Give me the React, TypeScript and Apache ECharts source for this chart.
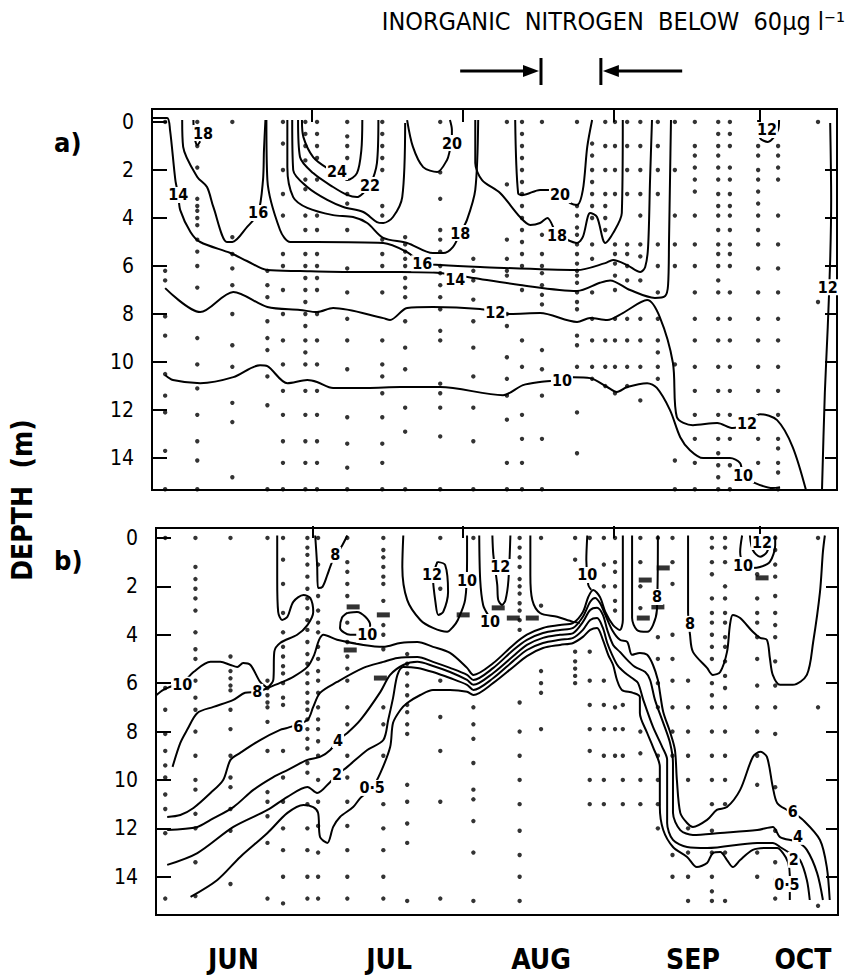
import React, { useEffect, useRef } from "react";
import * as echarts from "echarts";

const FONT = "'DejaVu Sans Condensed', 'Liberation Sans Narrow', 'DejaVu Sans', sans-serif";

// x = day of year (1 Jun = 152), y = depth in metres
const monthBoundaries = [182, 213, 244, 274];
const monthLabelDays = [165.8, 197.8, 229.0, 260.2, 282.8];
const monthNames = ["JUN", "JUL", "AUG", "SEP", "OCT"];
const depthTicks = [0, 2, 4, 6, 8, 10, 12, 14];
const depthTicksRight = [2, 4, 6, 8, 10, 12, 14];
// day where the right arrow starts, left bar, right bar, day where the left arrow ends
const nitrogenArrow = [212.4, 229.0, 241.3, 258.0];

// ---------- panel a) isolines ----------
const a14 = [[149.1,-0.17],[152.2,-0.17],[152.8,0.33],[153.9,2.42],[154.5,3.04],[154.9,3.67],[157.0,4.58],[159.0,5.0],[165.2,5.46],[168.6,5.79],[172.8,6.17],[179.5,6.21],[189.8,6.25],[200.1,6.25],[208.3,6.29],[215.1,6.5],[224.7,6.79],[236.4,7.04],[241.1,6.7],[243.2,6.6],[247.3,7.0],[252.4,7.33],[254.5,7.25],[255.1,6.8],[255.3,4.9],[255.5,2.4],[255.7,-0.08]];
const a16U = [[155.3,-0.08],[155.5,1.04],[158.4,2.29],[160.4,2.71],[161.7,3.54],[164.5,5.0],[165.6,5.0],[168.6,4.38],[170.9,3.79],[171.9,2.42],[172.1,1.17],[172.4,-0.08]];
const a16L = [[172.6,-0.08],[172.8,2.42],[175.4,4.5],[177.5,5.0],[183.0,5.0],[196.6,5.04],[201.5,5.42],[204.6,5.88],[208.3,5.96],[216.5,6.04],[236.4,6.17],[242.2,5.88],[243.8,5.75],[246.7,5.96],[249.4,6.25],[250.4,6.04],[251.0,5.2],[251.4,2.42],[251.8,-0.08]];
const a18a = [[176.9,-0.08],[176.9,1.88],[178.1,3.13],[181.0,3.58],[186.3,3.88],[190.4,3.96],[193.3,4.21],[196.6,4.83],[201.5,5.04],[206.8,5.46],[208.9,5.46],[210.9,5.21],[212.4,4.63],[213.8,4.08],[215.5,2.83],[216.1,-0.08]];
const a20a = [[177.9,-0.08],[178.1,2.0],[181.0,2.71],[185.1,3.25],[188.4,3.54],[192.5,3.75],[195.3,4.17],[196.6,4.21],[198.6,3.96],[200.5,3.13],[201.1,0.04]];
const a22 = [[179.1,-0.08],[179.5,1.46],[182.2,2.13],[186.3,2.71],[189.2,3.04],[191.2,3.13],[192.5,2.96],[193.9,2.63],[195.3,1.71],[195.6,-0.08]];
const a24 = [[179.9,-0.08],[180.2,0.63],[182.2,1.46],[185.1,1.92],[187.1,2.08],[189.2,2.42],[191.2,2.13],[192.1,1.17],[192.3,-0.08]];
const a20b = [[201.5,-0.08],[202.7,1.04],[204.8,1.88],[207.7,2.08],[209.7,1.58],[210.3,1.17],[210.7,0.88],[210.7,0.33],[210.3,-0.08]];
const a18b = [[215.5,-0.08],[215.5,1.71],[216.9,2.42],[220.6,2.96],[224.7,3.96],[226.8,4.29],[228.8,4.21],[230.3,4.0],[232.3,4.71],[233.5,4.83],[236.4,5.04],[237.6,4.79],[239.1,3.79],[240.5,3.96],[242.2,5.04],[243.8,4.63],[245.6,3.79],[245.8,-0.08]];
const a20c = [[223.7,-0.08],[224.3,2.96],[225.3,3.04],[228.8,2.83],[230.9,2.83],[232.9,3.04],[235.0,3.38],[236.4,3.46],[237.6,2.83],[238.5,1.04],[239.5,-0.08]];
const a12 = [[151.8,6.92],[159.0,7.92],[165.8,7.08],[172.8,7.71],[179.5,7.83],[183.0,7.92],[186.3,7.75],[196.6,8.17],[198.0,8.25],[201.5,7.75],[206.8,7.71],[216.5,7.79],[219.6,7.92],[222.7,8.0],[228.8,7.96],[236.4,8.33],[239.1,8.17],[242.6,8.25],[245.8,7.96],[250.8,7.42],[253.4,8.13],[256.1,10.04],[256.9,12.29],[260.2,12.63],[265.2,12.54],[268.4,12.75],[271.3,12.54],[274.0,12.17],[277.5,12.42],[280.7,13.54],[283.6,15.46]];
const a10 = [[151.8,10.54],[153.4,10.75],[159.0,10.88],[165.8,10.63],[171.3,10.13],[172.8,10.17],[176.9,10.88],[181.0,10.75],[183.0,10.83],[186.3,11.08],[193.3,11.08],[200.1,11.04],[208.3,11.04],[221.2,11.38],[225.3,10.96],[228.8,10.83],[233.3,10.75],[235.6,10.63],[239.1,10.67],[242.6,11.04],[244.6,11.25],[246.7,11.04],[250.8,10.88],[252.8,11.08],[255.5,12.0],[257.6,13.13],[259.6,13.67],[262.3,14.0],[267.8,14.0],[269.9,14.21],[270.5,14.71],[272.5,15.0],[276.6,15.25],[278.1,15.21]];
const a12R = [[286.7,15.46],[287.3,11.29],[287.9,8.54],[288.4,5.75],[288.6,3.25],[288.4,0.04]];
const a12small = [[273.6,-0.08],[274.0,0.67],[275.6,0.83],[277.7,0.33],[277.9,-0.08]];
const a18small = [[157.6,-0.08],[157.8,0.6],[158.4,0.96],[159.0,0.8]];

const labelsA: [number, number, string][] = [
  [159.6,0.46,"18"],[154.5,3.04,"14"],[170.9,3.79,"16"],[187.1,2.08,"24"],[193.9,2.63,"22"],
  [210.7,0.88,"20"],[212.4,4.63,"18"],[204.6,5.88,"16"],[211.4,6.55,"14"],[232.9,3.04,"20"],
  [232.3,4.71,"18"],[219.6,7.92,"12"],[233.3,10.75,"10"],[271.3,12.54,"12"],[270.5,14.71,"10"],
  [275.4,0.33,"12"],[287.9,6.88,"12"]
];

const dotsA: [number, number[]][] = [
  [151.8,[0,6.2,6.6,8.1,8.9,10.5,11.4,12.1,13.7,15.3]],
  [158.4,[0,1.0,1.9,3.2,3.5,3.7,4.0,4.3,4.9,5.4,6.0,6.9,9.0,10.1,11.1,12.2,13.3,14.1,15.3]],
  [165.6,[0,4.8,5.5,6.1,6.8,8.0,9.3,10.2,11.7,12.5,14.8]],
  [172.8,[6.2,6.8,7.3,8.3,9.0,9.5,10.6,11.8,15.3]],
  [176.0,[0,0.9,2.0,3.0,3.9,5.5,6.0,7.0,8.0,9.1,10.1,11.2,12.2,13.3,14.2,15.3]],
  [180.6,[0,0.5,1.0,1.6,2.4,2.8,3.9,4.5,5.5,6.0,6.5,7.0,7.5,8.0,8.5,9.1,9.6,10.1,11.2,12.2,13.3,14.2,15.3]],
  [183.0,[0,0.5,1.0,1.5,2.4,3.9,4.5,5.5,6.0,6.5,7.0,8.0,9.1,10.1,11.2,12.2,13.3,14.2,15.3]],
  [189.2,[0,0.6,1.0,1.5,3.0,3.4,4.5,6.1,7.1,8.2,9.1,10.3,12.3,13.4,14.4,15.3]],
  [196.4,[0,0.5,1.0,1.5,2.0,3.5,3.9,4.9,5.5,6.0,7.1,9.1,10.1,10.6,11.3,12.3,13.4,14.2,15.3]],
  [201.1,[4.8,5.1,5.4,5.7,6.0,6.5,6.9,7.3,8.3,9.4,10.3,11.9,12.9,15.3]],
  [208.3,[0,2.1,3.2,4.5,4.9,5.4,6.0,6.3,6.8,7.3,7.8,8.7,9.1,10.9,11.3,11.9,13.1,15.3]],
  [215.1,[5.7,6.2,6.6,7.4,8.3,9.4,10.6,11.9,13.3,15.3]],
  [222.0,[0,2.6,4.9,5.7,6.2,6.4,8.0,8.5,9.8,10.7,11.4,12.4,14.2,15.3]],
  [225.1,[0,0.5,1.0,1.5,2.0,2.5,3.0,3.5,4.0,4.5,5.0,5.5,6.0,7.0,9.1,10.2,12.2,13.2,14.2,15.3]],
  [229.2,[0,4.7,5.5,6.0,6.3,6.8,7.2,7.6,9.5,10.3,11.4,13.2,15.3]],
  [236.4,[0,3.5,3.9,4.4,4.7,5.1,5.5,5.9,6.2,6.4,6.7,7.1,7.5,7.8,8.9,9.3,10.2,12.1,13.8,15.4]],
  [239.5,[0.9,1.4,2.0,2.5,3.0,3.5,4.0,5.1,5.7,7.1,8.2,9.1,10.2,10.7]],
  [242.2,[0,1.0,2.0,3.0,3.5,4.0,4.5,9.1,10.2,11.0]],
  [244.2,[0,1.0,2.0,3.0,5.1,5.5,5.9,6.4,7.0,8.2,9.1,10.2,11.3]],
  [246.7,[0,1.0,2.0,3.0,5.1,5.5,6.0,6.6,8.2,9.1,10.2,11.0]],
  [249.4,[0,1.0,2.0,3.0,3.9,5.1,5.6,6.6,8.2,9.1,10.2,11.6]],
  [253.0,[0,1.0,2.0,3.0,5.1,6.0,7.1,8.2,9.1,9.6,10.2,10.7]],
  [256.5,[0,2.0,3.9,5.1,6.0,10.1,14.1,15.3]],
  [260.6,[0,1.0,1.4,1.9,2.4,2.9,3.9,5.1,6.0,7.1,8.2,9.1,10.2,11.2,12.2,13.2,14.2,15.3]],
  [265.4,[0,0.5,1.0,1.4,1.9,2.4,3.0,3.5,3.9,4.5,5.1,5.5,6.0,6.6,7.1,8.2,9.1,10.2,11.2,12.2,13.2,13.8,14.3,14.8,15.3]],
  [267.8,[0,0.5,1.0,1.9,2.4,3.0,3.5,3.9,4.5,5.1,5.5,6.0,7.1,8.2,9.1,10.2,11.2,12.2,13.2,14.3,15.3]],
  [273.6,[1.0,1.4,2.0,2.4,2.9,3.4,3.9,4.5,5.1,6.1,7.1,8.2,9.1,10.2,11.2,13.2,14.2]],
  [277.7,[1.0,1.4,1.9,2.4,3.9,5.1,6.1,7.1,8.2,9.1,10.2,11.2,12.2,13.2,13.6,14.2,14.6,15.3]],
  [285.9,[0,7.5]]
];

// ---------- panel b) isolines ----------
const b10left = [[150.0,6.49],[151.4,6.28],[153.3,6.12],[155.3,6.0],[157.6,5.54],[161.1,5.12],[163.1,5.12],[165.2,5.25],[166.6,5.33],[167.8,5.17],[169.3,5.25],[171.3,5.95],[172.8,6.2]];
const b8left = [[153.3,9.46],[154.9,8.47],[156.3,7.93],[158.4,7.23],[161.7,6.98],[165.8,6.69],[168.2,6.4],[170.7,6.36],[172.8,6.2]];
const b10up = [[172.8,6.2],[174.0,5.87],[174.2,4.71],[175.4,4.34],[178.9,4.0],[181.0,3.6],[182.2,3.06],[181.6,2.48],[180.2,2.36],[178.1,2.64],[176.9,3.26],[175.8,3.39],[175.0,3.06],[174.8,1.74],[174.8,-0.1]];
const b8top = [[182.6,-0.1],[183.0,1.12],[183.2,2.07],[184.1,2.02],[185.1,1.53],[186.1,0.99],[188.2,0.29],[189.2,-0.1]];
const b10loop = [[189.2,3.1],[191.2,3.06],[192.9,3.26],[193.9,3.6],[192.9,4.0],[189.8,4.0],[187.7,3.72],[188.1,3.3],[189.2,3.1]];
const b10U = [[200.7,-0.1],[200.5,1.2],[201.5,2.56],[204.2,3.39],[206.8,3.72],[209.7,3.88],[210.9,3.68],[211.9,3.39],[213.4,2.56],[213.8,0.91],[213.8,-0.1]];
const b12loop = [[207.7,0.99],[209.3,1.12],[209.9,2.23],[208.9,3.06],[207.9,3.18],[207.3,2.64],[206.8,1.65],[207.7,0.99]];
const b10B = [[216.3,-0.1],[216.5,1.74],[217.1,2.77],[218.1,3.18]];
const b12U = [[219.0,-0.1],[219.2,0.7],[220.0,1.94],[220.2,2.56],[221.0,2.77],[221.7,2.56],[222.3,1.74],[222.7,-0.1]];
const b10C = [[226.8,-0.1],[226.8,1.53],[227.2,2.56],[228.8,3.1],[232.3,3.26],[235.6,3.47],[237.0,3.51]];
const b10top = [[238.5,-0.1],[238.3,0.91],[238.7,1.94],[239.3,2.15]];
const b8mid = [[172.8,6.2],[175.4,5.99],[178.1,5.74],[181.0,5.33],[182.4,4.83],[183.4,4.21],[184.3,4.0],[187.1,4.21],[192.5,4.42],[196.6,4.5],[200.1,4.34],[203.6,4.3],[206.8,4.5],[210.3,4.75],[213.8,5.37],[215.1,5.66],[219.2,5.17],[223.3,4.42],[226.1,4.0],[229.4,3.72],[232.9,3.6],[235.6,3.51],[237.6,3.06],[238.7,2.44],[239.7,2.15],[241.1,2.44],[242.2,3.06],[243.8,3.6],[245.2,3.8],[245.8,3.39],[245.8,1.74],[245.8,-0.1]];
const b6 = [[152.2,11.53],[154.9,11.45],[157.6,11.16],[161.1,10.54],[163.7,10.0],[165.2,9.17],[167.2,8.88],[171.3,8.35],[175.4,7.93],[176.9,7.85],[181.0,7.52],[182.2,6.98],[183.6,6.4],[187.1,5.95],[192.5,5.37],[196.6,5.12],[199.5,4.96],[203.6,4.92],[206.8,5.12],[210.3,5.37],[213.8,5.66],[215.1,5.87],[219.2,5.37],[223.3,4.63],[226.1,4.21],[229.4,3.93],[232.9,3.8],[235.6,3.72],[237.6,3.26],[239.1,2.64],[240.1,2.48],[241.1,2.69],[242.2,3.18],[243.6,3.8],[245.2,4.21],[246.7,4.3],[247.7,4.83],[249.3,4.75],[250.8,4.83],[252.0,5.25],[253.0,5.87],[253.4,6.36],[254.1,7.19],[255.5,8.02],[256.5,8.76],[256.9,10.0],[257.6,11.36],[259.0,11.78],[260.2,11.94],[263.1,11.65],[265.1,11.24],[267.2,11.12],[269.9,10.41],[272.5,9.05],[274.0,8.84],[275.4,9.05],[276.6,10.29],[277.5,10.95],[279.5,11.24],[280.7,11.36],[282.8,11.65],[286.3,12.48],[287.7,13.6],[288.3,14.96]];
const b4 = [[152.2,12.07],[158.4,11.94],[161.1,11.65],[165.8,11.12],[169.9,10.41],[174.0,9.88],[176.9,9.59],[181.0,9.17],[183.6,9.05],[185.7,8.76],[187.3,8.35],[189.2,8.06],[191.9,7.52],[196.0,6.36],[198.0,5.66],[200.7,5.25],[203.6,5.12],[206.8,5.29],[210.3,5.54],[213.8,5.87],[215.1,6.07],[219.2,5.58],[223.3,4.88],[226.1,4.42],[229.4,4.13],[232.9,4.0],[235.6,3.93],[237.6,3.47],[239.1,2.98],[240.5,2.89],[241.7,3.18],[242.6,3.8],[243.8,4.42],[245.2,4.71],[246.7,5.04],[248.3,5.33],[250.4,5.54],[251.4,5.87],[252.4,6.69],[254.1,7.64],[255.5,8.47],[256.1,9.3],[256.1,11.36],[257.6,12.07],[260.2,12.27],[265.8,12.19],[273.4,12.07],[276.6,11.94],[278.1,12.36],[281.6,12.56],[283.6,12.89],[285.7,13.84],[286.9,14.96]];
const b2 = [[152.2,13.51],[158.4,13.02],[165.8,11.94],[172.8,11.24],[176.9,10.7],[181.0,10.29],[183.0,10.54],[185.7,10.08],[187.1,9.79],[189.2,9.46],[193.3,8.76],[196.6,8.35],[197.6,7.52],[198.6,6.61],[199.5,5.66],[200.7,5.33],[203.6,5.37],[206.8,5.54],[210.3,5.79],[213.8,6.07],[215.1,6.28],[219.2,5.79],[223.3,5.08],[226.1,4.63],[229.4,4.34],[232.9,4.21],[235.6,4.13],[237.6,3.8],[239.1,3.39],[240.5,3.31],[241.7,3.72],[242.6,4.34],[243.6,4.83],[244.8,5.29],[246.3,5.58],[247.7,5.79],[248.9,5.99],[250.0,6.69],[252.0,7.81],[253.9,8.64],[254.9,9.17],[254.9,11.78],[256.1,12.48],[259.0,12.77],[263.1,12.81],[273.4,12.6],[276.6,12.6],[278.1,12.77],[280.7,13.1],[282.2,13.31],[283.6,14.13],[284.2,14.96]];
const b05 = [[157.0,14.83],[162.5,14.13],[167.2,13.18],[172.8,12.19],[176.9,11.36],[180.2,11.03],[182.2,11.12],[183.2,11.36],[183.6,12.36],[185.1,12.6],[186.3,11.94],[187.7,11.53],[190.4,11.12],[191.9,10.74],[194.3,10.33],[196.0,9.71],[198.0,8.64],[198.6,7.64],[200.1,7.11],[201.5,6.82],[204.2,6.49],[206.8,6.28],[210.3,6.28],[213.8,6.36],[215.1,6.49],[219.2,5.99],[223.3,5.33],[226.1,4.88],[229.4,4.55],[232.9,4.42],[235.6,4.34],[237.6,4.09],[239.1,3.8],[240.5,3.72],[241.7,4.21],[242.8,4.83],[243.8,5.25],[244.6,5.87],[245.6,6.28],[247.9,6.4],[249.3,6.57],[249.3,7.23],[250.8,8.06],[252.0,8.64],[253.4,9.46],[253.4,11.12],[254.1,12.07],[256.1,12.77],[259.0,13.18],[261.0,13.6],[263.1,13.43],[264.3,13.02],[265.8,12.98],[267.2,13.31],[268.4,13.6],[269.9,13.31],[272.5,12.89],[275.4,12.81],[277.5,12.81],[278.7,13.02],[279.7,13.39],[280.1,13.93],[280.1,14.67],[280.1,14.96]];
const b8R = [[259.2,-0.1],[259.2,3.06],[259.6,4.0],[260.2,4.71],[263.1,5.37],[264.3,5.66],[265.8,5.54],[267.2,4.71],[267.8,3.6],[268.4,3.18],[269.9,3.31],[272.5,3.88],[274.0,4.13],[275.4,4.21],[276.0,4.96],[276.6,5.66],[278.1,6.07],[280.7,6.07],[283.6,5.66],[284.9,4.3],[286.3,2.23],[286.9,0.58],[287.3,-0.1]];
const b8Umid = [[247.7,-0.1],[247.7,3.31],[248.7,3.8],[250.8,3.88],[252.0,3.6],[252.8,2.98],[253.0,-0.1]];
const b10R = [[270.3,-0.1],[269.9,0.58],[270.5,1.0],[272.3,1.24],[274.0,1.2],[276.0,0.99],[277.1,0.29],[277.1,-0.1]];
const b12R = [[271.9,-0.1],[272.5,0.5],[274.0,0.78],[275.4,0.58],[276.4,-0.1]];

const labelsB: [number, number, string][] = [
  [155.3,6.07,"10"],[170.7,6.36,"8"],[186.7,0.7,"8"],[193.3,4.0,"10"],[206.6,1.53,"12"],
  [213.8,1.74,"10"],[220.6,1.2,"12"],[218.5,3.47,"10"],[238.5,1.53,"10"],[252.8,2.44,"8"],
  [259.6,3.55,"8"],[270.5,1.12,"10"],[274.4,0.17,"12"],[179.1,7.81,"6"],[187.3,8.35,"4"],
  [187.1,9.79,"2"],[194.3,10.33,"0·5"],[280.7,11.3,"6"],[281.8,12.35,"4"],[280.9,13.3,"2"],
  [279.5,14.3,"0·5"]
];

const barsB = [[190.4,2.85],[196.6,3.18],[189.8,4.63],[196.0,5.79],[213.0,3.18],[220.2,2.89],[223.3,3.31],[227.2,3.31],[250.4,1.74],[254.1,1.24],[274.4,1.65],[253.0,2.85],[250.0,3.31]];

const dotsB: [number, number[]][] = [
  [151.8,[0,6.2,7.1,8.1,8.8,9.4,9.9,10.6,11.2,12.2,14.9]],
  [158.0,[0,1.2,1.7,2.1,2.5,3.0,3.9,4.6,5.0,5.9,6.6,7.1,8.0,9.0,10.0,10.4,11.4,12.0,13.4,14.8]],
  [165.2,[0,4.9,5.5,5.8,6.1,6.3,7.1,7.9,9.0,9.9,10.3,11.2,12.1,14.3]],
  [172.8,[0,5.9,6.2,6.5,6.8,7.0,7.6,8.8,10.5,10.9,11.5,12.6,14.9]],
  [176.0,[0,0.9,1.9,3.1,3.9,4.5,4.9,5.3,5.6,6.0,6.6,6.9,8.8,9.9,10.9,12.0,12.9,14.0,15.1]],
  [181.0,[0,0.4,0.7,1.1,1.6,2.1,2.5,2.9,3.4,3.8,4.3,4.8,5.2,5.6,6.0,6.4,6.8,7.1,7.5,7.9,8.3,8.7,9.3,9.7,11.0,12.0,12.9,14.0,14.9]],
  [183.2,[0,1.1,2.4,3.0,3.5,3.9,4.5,5.0,5.5,5.9,6.4,7.0,7.5,7.9,8.4,9.0,10.0,10.9,11.9,13.0,14.0,14.9]],
  [189.2,[0,1.0,1.4,1.9,2.4,3.5,4.3,4.9,5.4,5.9,7.0,7.7,9.0,9.9,10.9,11.9,12.9,14.0,14.9]],
  [196.6,[0,0.5,0.8,1.2,1.6,1.9,2.6,3.6,4.0,4.6,7.0,7.7,9.0,11.0,12.0,12.9,14.0,14.9]],
  [201.5,[4.8,5.2,5.6,6.1,6.5,6.9,7.2,7.7,8.1,10.2,10.9,11.8,12.6,15.0]],
  [208.3,[0,2.1,5.9,7.4,8.8,10.9,14.9]],
  [215.1,[0,7.0,7.7,8.3,9.3,10.4,10.8,11.7,13.0,15.0]],
  [224.6,[0,0.4,0.8,1.2,1.7,2.0,2.3,2.7,3.0,3.4,3.8,6.8,8.0,9.0,10.0,11.0,12.1,13.1,14.0,15.0]],
  [229.0,[0,2.8,5.5,6.0,6.4,7.9]],
  [236.0,[0,0.9,4.7,5.1,5.4,5.7,6.0]],
  [239.0,[0,4.7,5.9,6.9,7.9,8.8,10.0,11.0]],
  [241.9,[0,1.1,2.0,5.9,6.9,7.9,9.0,10.0,11.0]],
  [244.2,[0,1.0,1.4,2.0,2.6,3.0,7.0,7.9,9.0]],
  [245.8,[6.9,7.9,9.0,10.0,11.0]],
  [249.4,[0,1.0,2.0,2.9,8.0,8.9,10.0,11.0]],
  [253.0,[0,4.1,5.0,6.0,7.0,9.0,10.0,11.0,12.0]],
  [256.0,[0,1.0,1.9,4.0,5.0,5.9,7.0,8.0,9.0,13.1,14.0]],
  [259.2,[5.9,7.0,8.0,9.0,10.0,12.0,13.0,14.0,15.0]],
  [264.1,[0,0.4,1.0,1.5,2.5,3.1,3.5,4.0,4.5,5.0,6.0,6.5,7.0,8.0,9.0,10.0,11.0,12.1,13.0,14.0,14.6,15.0]],
  [266.8,[0,0.4,1.0,2.0,2.5,3.1,3.5,4.1,4.5,5.1,5.7,6.2,7.0,8.0,9.0,10.0,11.0,13.0,15.0]],
  [273.4,[0,1.5,2.5,3.1,3.5,4.1,5.0,6.1,7.0,8.0,9.0,10.2,13.0,14.0]],
  [277.1,[0,0.5,1.1,1.6,2.4,3.1,3.6,4.1,5.1,6.1,7.0,8.1,10.3,12.1,13.4,14.1,14.9]],
  [285.9,[0,7.0,15.2]]
];

const contoursA = [a14, a16U, a16L, a18a, a20a, a22, a24, a20b, a18b, a20c, a12, a10, a12R, a12small, a18small];
const contoursB = [b10left, b8left, b10up, b8top, b10loop, b10U, b12loop, b10B, b12U, b10C, b10top, b8mid, b6, b4, b2, b05, b8R, b8Umid, b10R, b12R];

function buildOption() {
  const lineS = (data: number[][], g: number) => ({
    type: "line", xAxisIndex: g, yAxisIndex: g * 2, data, showSymbol: false, symbol: "none",
    smooth: 0.3, lineStyle: { color: "#000", width: 2 }, silent: true, z: 2, clip: true,
  });
  const dotS = (cols: [number, number[]][], g: number) => ({
    type: "scatter", xAxisIndex: g, yAxisIndex: g * 2, silent: true, z: 3,
    symbolSize: 4.4, itemStyle: { color: "#000" },
    data: cols.flatMap(([d, deps]) => deps.map((z) => [d, z])),
  });
  const labelS = (labels: [number, number, string][], g: number) => ({
    type: "scatter", xAxisIndex: g, yAxisIndex: g * 2, silent: true, z: 5,
    symbolSize: 1, itemStyle: { color: "rgba(0,0,0,0)" },
    data: labels.map(([d, z, t]) => ({ value: [d, z], name: t })),
    label: {
      show: true, position: "inside", formatter: "{b}", color: "#000", opacity: 1,
      fontFamily: FONT, fontSize: 16, fontWeight: "bold", backgroundColor: "#fff", padding: [0, 1],
      textBorderWidth: 0,
    },
  });
  const xAx = (g: number, min: number, max: number, showLabels: boolean) => ({
    type: "value", gridIndex: g, min, max,
    axisLine: { show: false }, splitLine: { show: false },
    axisTick: { show: true, inside: true, length: 12, customValues: monthBoundaries, lineStyle: { color: "#000", width: 2 } },
    axisLabel: showLabels
      ? {
          show: true, customValues: monthLabelDays, margin: 30, color: "#000",
          fontFamily: FONT, fontSize: 28, fontWeight: "bold",
          formatter: (v: number) => {
            let best = 0;
            monthLabelDays.forEach((m, i) => { if (Math.abs(m - v) < Math.abs(monthLabelDays[best] - v)) best = i; });
            return monthNames[best];
          },
        }
      : { show: false },
  });
  const yAx = (g: number, min: number, max: number, right: boolean) => ({
    type: "value", gridIndex: g, min, max, inverse: true, position: right ? "right" : "left",
    axisLine: { show: false }, splitLine: { show: false },
    axisTick: { show: true, inside: true, length: right ? 12 : 15, customValues: right ? depthTicksRight : depthTicks, lineStyle: { color: "#000", width: 2 } },
    axisLabel: right
      ? { show: false }
      : { show: true, customValues: depthTicks, margin: 18, color: "#000", fontFamily: FONT, fontSize: 21 },
  });

  return {
    animation: false,
    backgroundColor: "#fff",
    grid: [
      { left: 152, top: 109, width: 685, height: 381, show: true, borderColor: "#000", borderWidth: 2, backgroundColor: "transparent" },
      { left: 156, top: 528, width: 682, height: 387, show: true, borderColor: "#000", borderWidth: 2, backgroundColor: "transparent" },
    ],
    xAxis: [xAx(0, 149.1, 289.8, false), xAx(1, 149.9, 290.0, true)],
    yAxis: [yAx(0, -0.54, 15.33, false), yAx(0, -0.54, 15.33, true), yAx(1, -0.41, 15.58, false), yAx(1, -0.41, 15.58, true)],
    series: [
      ...contoursA.map((c) => lineS(c, 0)),
      ...contoursB.map((c) => lineS(c, 1)),
      dotS(dotsA, 0),
      dotS(dotsB, 1),
      {
        type: "scatter", xAxisIndex: 1, yAxisIndex: 2, silent: true, z: 4,
        symbol: "rect", symbolSize: [13, 5], itemStyle: { color: "#000" }, data: barsB,
      },
      labelS(labelsA, 0),
      labelS(labelsB, 1),
    ],
  };
}

export default function App() {
  const ref = useRef<HTMLDivElement>(null);
  useEffect(() => {
    if (!ref.current) return;
    const chart = echarts.init(ref.current, null, { renderer: "svg" });
    chart.setOption(buildOption() as any);
    const px = (d: number) => chart.convertToPixel({ xAxisIndex: 0 } as any, d) as unknown as number;
    const [tailR, barL, barR, tailL] = nitrogenArrow.map(px);
    const ay = 71;
    const txt = (x: number, y: number, text: string, font: string, align: string, extra: any = {}) => ({
      type: "text", x, y, ...extra,
      style: { text, font, fill: "#000", align, textAlign: align, verticalAlign: "middle", textVerticalAlign: "middle" },
    });
    chart.setOption({
      graphic: [
        txt(845, 21, "INORGANIC  NITROGEN  BELOW  60µg l⁻¹", `25px ${FONT}`, "right"),
        { type: "line", shape: { x1: tailR, y1: ay, x2: barL - 10, y2: ay }, style: { stroke: "#000", lineWidth: 3 } },
        { type: "polygon", shape: { points: [[barL - 2, ay], [barL - 18, ay - 6], [barL - 18, ay + 6]] }, style: { fill: "#000" } },
        { type: "line", shape: { x1: barL, y1: ay - 13, x2: barL, y2: ay + 14 }, style: { stroke: "#000", lineWidth: 3 } },
        { type: "line", shape: { x1: barR, y1: ay - 13, x2: barR, y2: ay + 14 }, style: { stroke: "#000", lineWidth: 3 } },
        { type: "polygon", shape: { points: [[barR + 2, ay], [barR + 18, ay - 6], [barR + 18, ay + 6]] }, style: { fill: "#000" } },
        { type: "line", shape: { x1: barR + 10, y1: ay, x2: tailL, y2: ay }, style: { stroke: "#000", lineWidth: 3 } },
        txt(54, 142, "a)", `bold 27px ${FONT}`, "left"),
        txt(54, 560, "b)", `bold 27px ${FONT}`, "left"),
        txt(22, 500, "DEPTH  (m)", `bold 28px ${FONT}`, "center", { rotation: Math.PI / 2 }),
      ],
    } as any);
    return () => chart.dispose();
  }, []);
  return <div ref={ref} style={{ position: "fixed", left: 0, top: 0, width: 849, height: 979, background: "#fff" }} />;
}
